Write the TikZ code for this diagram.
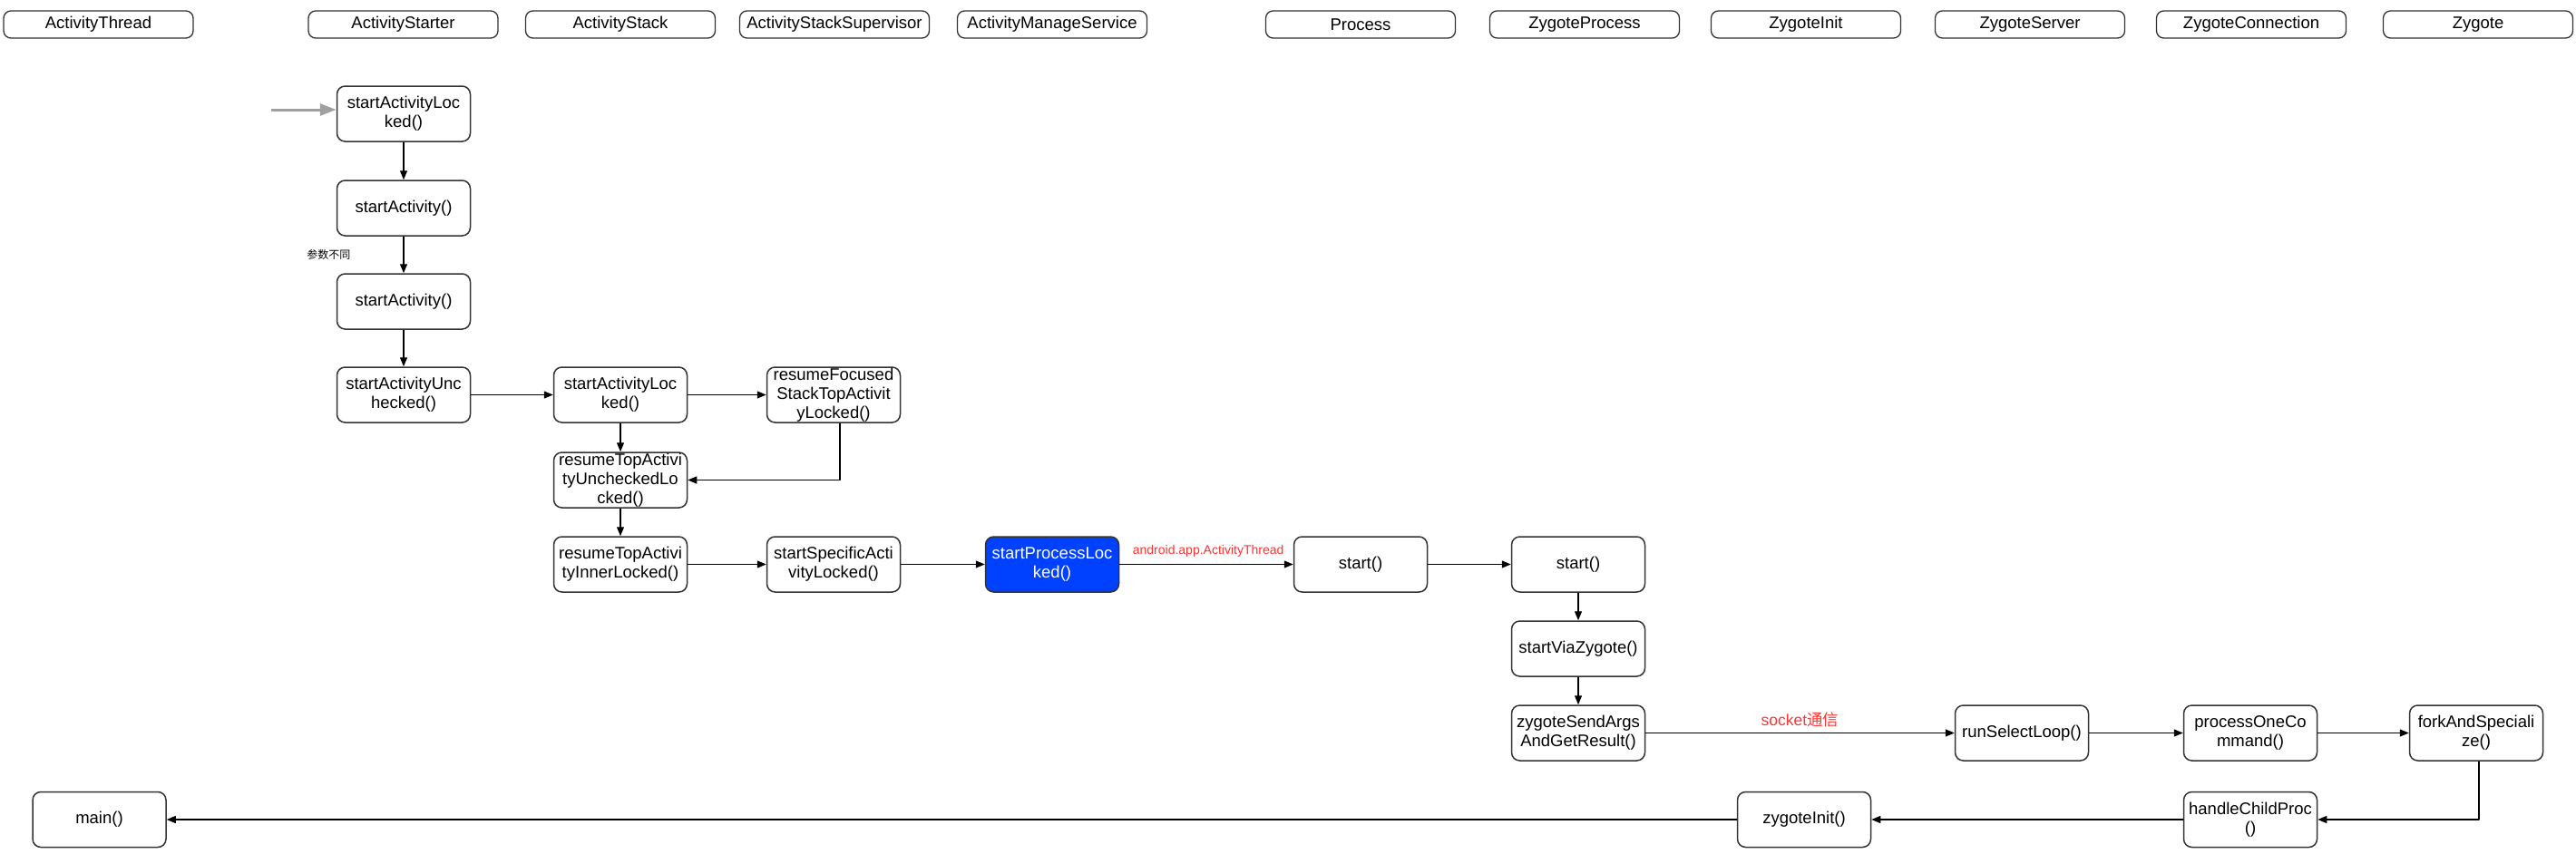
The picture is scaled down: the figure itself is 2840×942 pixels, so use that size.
\documentclass[tikz,border=0pt]{standalone}
\usepackage{fontspec}
\setmainfont{Liberation Sans}
\newfontfamily\cjk{Noto Sans CJK SC}
\usetikzlibrary{arrows.meta}
\definecolor{callblue}{RGB}{0,64,255}
\definecolor{notered}{RGB}{255,51,51}
\definecolor{boxline}{RGB}{51,51,51}
\definecolor{ingray}{RGB}{160,160,160}
\begin{document}
\begin{tikzpicture}[x=1pt, y=-1pt, font=\fontsize{18.5}{21}\selectfont, line join=round, >={Triangle[length=10pt,width=8pt]},
    head/.style={draw=boxline, line width=1.3pt, rounded corners=8pt, minimum width=209pt, minimum height=30pt, inner sep=0pt},
    call/.style={draw=boxline, line width=1.5pt, rounded corners=9pt, minimum width=147pt, minimum height=61pt, inner sep=0pt, align=center},
    hot/.style={call, fill=callblue, text=white},
    note/.style={text=notered, inner sep=0pt},
    flow/.style={->, line width=1.2pt}]
    \useasboundingbox (0,0) rectangle (2840,942);
    % lanes
    \foreach \x/\t in {108.5/ActivityThread, 444.5/ActivityStarter, 684/ActivityStack, 920/ActivityStackSupervisor, 1160/ActivityManageService, 1500/Process, 1747/ZygoteProcess, 1991/ZygoteInit, 2238/ZygoteServer, 2482/ZygoteConnection, 2732/Zygote}
        \node[head] (h\t) at (\x,27) {\t};
    % calls
    \node[call] (sal) at (445,125.5) {startActivityLoc\\ked()};
    \node[call] (sa1) at (445,229.5) {startActivity()};
    \node[call] (sa2) at (445,332.5) {startActivity()};
    \node[call] (sau) at (445,435.5) {startActivityUnc\\hecked()};
    \node[call] (stl) at (684,435.5) {startActivityLoc\\ked()};
    \node[call] (rfs) at (919,435.5) {resumeFocused\\StackTopActivit\\yLocked()};
    \node[call] (rtu) at (684,529.5) {resumeTopActivi\\tyUncheckedLo\\cked()};
    \node[call] (rti) at (684,622.5) {resumeTopActivi\\tyInnerLocked()};
    \node[call] (ssa) at (919,622.5) {startSpecificActi\\vityLocked()};
    \node[hot] (spl) at (1160,622.5) {startProcessLoc\\ked()};
    \node[call] (pst) at (1500,622.5) {start()};
    \node[call] (zst) at (1740,622.5) {start()};
    \node[call] (svz) at (1740,715.5) {startViaZygote()};
    \node[call] (zsa) at (1740,808.5) {zygoteSendArgs\\AndGetResult()};
    \node[call] (rsl) at (2229,808.5) {runSelectLoop()};
    \node[call] (poc) at (2481,808.5) {processOneCo\\mmand()};
    \node[call] (fas) at (2730,808.5) {forkAndSpeciali\\ze()};
    \node[call] (hcp) at (2481,904) {handleChildProc\\()};
    \node[call] (zin) at (1989,904) {zygoteInit()};
    \node[call] (main) at (109.5,904) {main()};
    % entry
    \coordinate (in) at (299,121);
    \draw[ingray, line width=3pt, -{Triangle[length=18pt,width=13pt]}] (in) -- (in -| sal.west);
    % arrows
    \draw[flow] (sal) -- (sa1);
    \draw[flow] (sa1) -- node[left=58pt, inner sep=0pt, font=\cjk\fontsize{12}{14}\selectfont] {参数不同} (sa2);
    \draw[flow] (sa2) -- (sau);
    \draw[flow] (sau) -- (stl);
    \draw[flow] (stl) -- (rfs);
    \draw[flow] (stl) -- (rtu);
    \draw[flow] ([xshift=7pt]rfs.south) |- (rtu.east);
    \draw[flow] (rtu) -- (rti);
    \draw[flow] (rti) -- (ssa);
    \draw[flow] (ssa) -- (spl);
    \draw[flow] (spl) -- node[note, pos=0, anchor=south west, xshift=14pt, yshift=8pt, font=\fontsize{14}{16}\selectfont] {android.app.ActivityThread} (pst);
    \draw[flow] (pst) -- (zst);
    \draw[flow] (zst) -- (svz);
    \draw[flow] (svz) -- (zsa);
    \draw[flow] (zsa) -- node[note, above=6pt, font=\fontsize{17.5}{20}\selectfont] {socket{\cjk 通信}} (rsl);
    \draw[flow] (rsl) -- (poc);
    \draw[flow] (poc) -- (fas);
    \draw[flow] ([xshift=3pt]fas.south) |- (hcp.east);
    \draw[flow] (hcp) -- (zin);
    \draw[flow] (zin) -- (main);
\end{tikzpicture}
\end{document}
